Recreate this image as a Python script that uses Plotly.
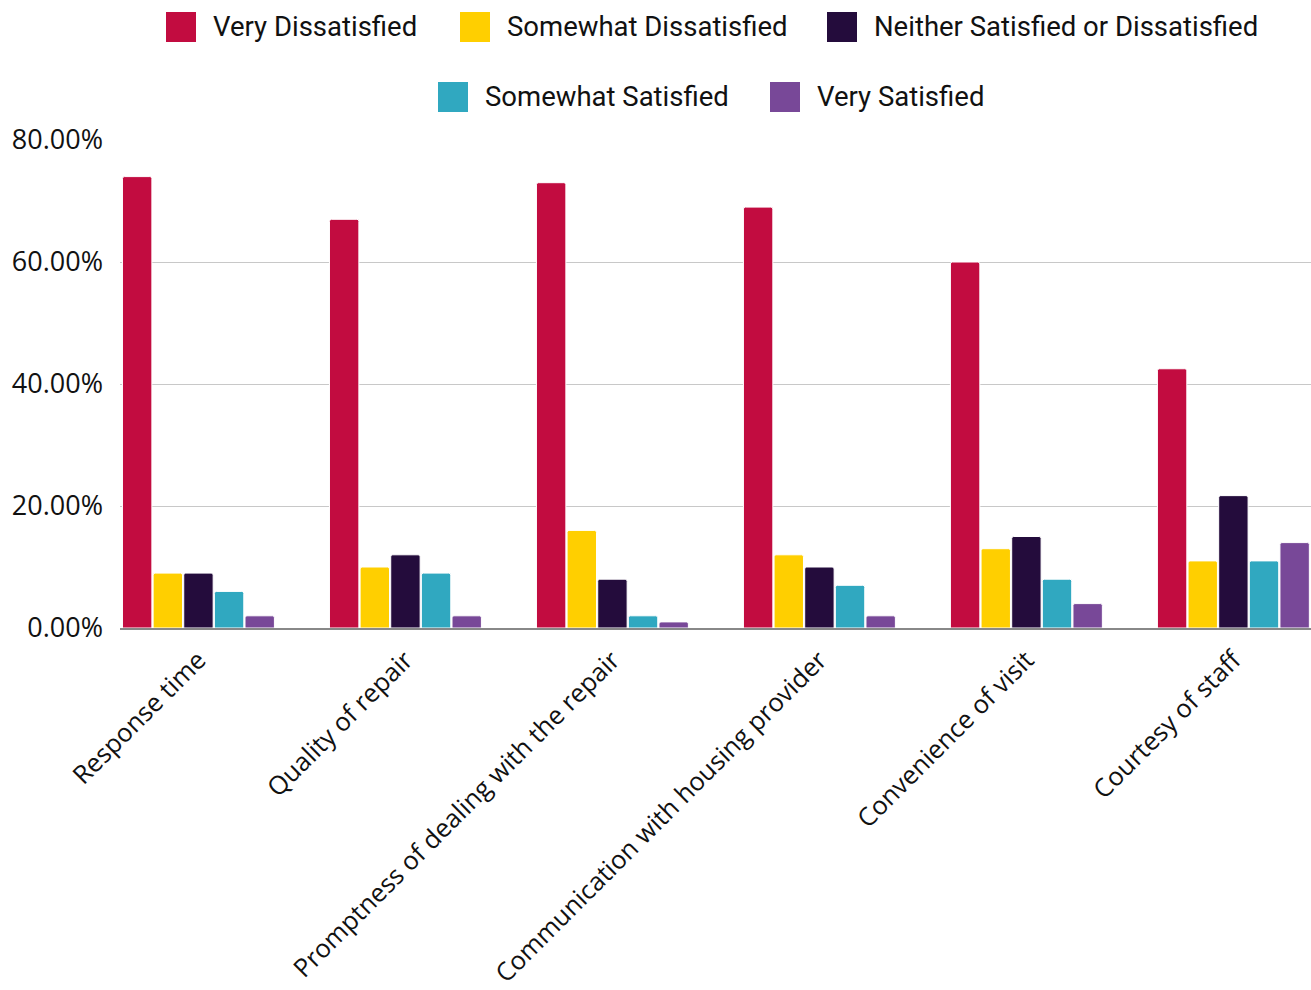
import plotly.graph_objects as go

categories = ["Response time", "Quality of repair", "Promptness of dealing with the repair",
              "Communication with housing provider", "Convenience of visit", "Courtesy of staff"]
series_names = ["Very Dissatisfied", "Somewhat Dissatisfied", "Neither Satisfied or Dissatisfied",
                "Somewhat Satisfied", "Very Satisfied"]
very_dissatisfied = [74, 67, 73, 69, 60, 42.5]
somewhat_dissatisfied = [9, 10, 16, 12, 13, 11]
neither = [9, 12, 8, 10, 15, 21.7]
somewhat_satisfied = [6, 9, 2, 7, 8, 11]
very_satisfied = [2, 2, 1, 2, 4, 14]
y_ticks = [0, 20, 40, 60, 80]
y_tick_labels = [f"{v:.2f}%" for v in y_ticks]

series_values = [very_dissatisfied, somewhat_dissatisfied, neither, somewhat_satisfied, very_satisfied]
colors = ["#C20C40", "#FFCF00", "#240C3C", "#30A8C0", "#784898"]

W, H = 1311, 990
L, R, T, B = 120, 0, 140, 362
PW, PH = W - L - R, H - T - B

def px(x):
    return (x - L) / PW

def py(y):
    return (H - B - y) / PH

fig = go.Figure()
for name, vals, col in zip(series_names, series_values, colors):
    fig.add_trace(go.Bar(x=categories, y=vals, name=name, showlegend=False,
                         marker=dict(color=col, line=dict(color="white", width=1), cornerradius=2)))

# manual legend (large square swatches)
legend_layout = [(166, 12), (460, 12), (827, 12), (438, 82), (770, 82)]
shapes = []
annotations = []
for (x0, y0), name, col in zip(legend_layout, series_names, colors):
    shapes.append(dict(type="rect", xref="paper", yref="paper",
                       x0=px(x0), x1=px(x0 + 30), y0=py(y0 + 30), y1=py(y0),
                       fillcolor=col, line=dict(width=0)))
    annotations.append(dict(text=name, xref="paper", yref="paper", x=px(x0 + 45), y=py(y0 + 14),
                            xanchor="left", yanchor="middle", showarrow=False,
                            font=dict(family="Roboto", size=27.5, color="#111")))

fig.update_layout(
    width=W, height=H,
    margin=dict(l=L, r=R, t=T, b=B, autoexpand=False),
    plot_bgcolor="white", paper_bgcolor="white",
    barmode="group", bargap=0.26, bargroupgap=0.04,
    shapes=shapes, annotations=annotations,
    xaxis=dict(range=[-0.379, 5.375], tickangle=-45, showline=True, linecolor="#888", linewidth=2,
               showgrid=False, ticks="", ticklabelstandoff=5,
               tickfont=dict(family="Open Sans", size=25.5, color="#111")),
    yaxis=dict(range=[0, 80], tickmode="array", tickvals=y_ticks, ticktext=y_tick_labels,
               showgrid=True, gridcolor="#c8c8c8", gridwidth=1, zeroline=False, showline=False,
               ticks="", ticklabelstandoff=16,
               tickfont=dict(family="Open Sans", size=27, color="#111")),
)

fig.write_html("out.html")
